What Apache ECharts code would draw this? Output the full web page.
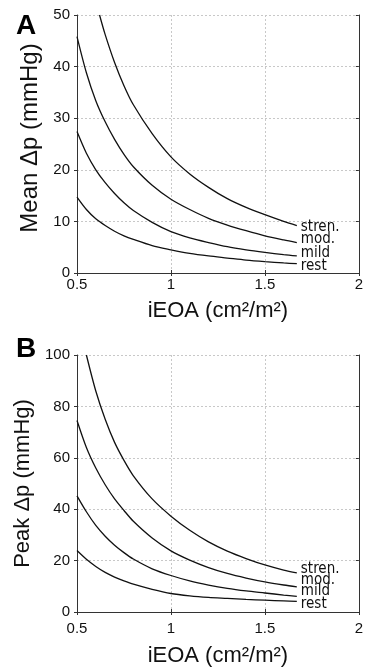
<!DOCTYPE html>
<html>
<head>
<meta charset="utf-8">
<script src="https://cdn.jsdelivr.net/npm/echarts@6/dist/echarts.min.js"></script>
<style>
  html, body { margin: 0; padding: 0; background: #fff; }
  #chart { width: 366px; height: 668px; }
</style>
</head>
<body>
<div id="chart"></div>
<script>
// iEOA (cm²/m²) sample points
const iEOA = [0.5, 0.55, 0.6, 0.65, 0.7, 0.75, 0.8, 0.9, 1.0, 1.1, 1.2, 1.3, 1.4, 1.5, 1.6, 1.67]
const iEOAStrenMean = [0.62, 0.65, 0.7, 0.75, 0.8, 0.9, 1.0, 1.1, 1.2, 1.3, 1.4, 1.5, 1.6, 1.67]
const iEOAStrenPeak = [0.55, 0.6, 0.65, 0.7, 0.75, 0.8, 0.9, 1.0, 1.1, 1.2, 1.3, 1.4, 1.5, 1.6, 1.67]

// panel A: mean gradient (mmHg)
const meanRest = [14.7, 12.3, 10.5, 9.2, 8.1, 7.2, 6.5, 5.3, 4.5, 3.8, 3.3, 2.9, 2.5, 2.2, 1.95, 1.8]
const meanMild = [27.4, 23.2, 20.0, 17.5, 15.4, 13.6, 12.1, 9.8, 8.0, 6.8, 5.9, 5.1, 4.5, 4.0, 3.55, 3.3]
const meanMod = [45.8, 38.8, 33.4, 29.3, 25.9, 23.0, 20.6, 17.0, 14.3, 12.3, 10.6, 9.3, 8.2, 7.2, 6.4, 5.9]
const meanStren = [50, 46.2, 40.8, 36.3, 32.6, 27.0, 22.5, 19.2, 16.6, 14.4, 12.7, 11.3, 10.0, 9.2]

// panel B: peak gradient (mmHg)
const peakRest = [23.9, 20.5, 17.7, 15.4, 13.6, 12.1, 10.8, 8.8, 7.2, 6.3, 5.7, 5.3, 4.9, 4.6, 4.3, 4.1]
const peakMild = [45.2, 39, 33.7, 29.5, 26, 23.1, 20.6, 16.8, 14.2, 12.1, 10.5, 9.2, 8.2, 7.4, 6.6, 6.1]
const peakMod = [74.5, 64, 56, 49.5, 44, 39.5, 35.3, 28.8, 23.8, 20.2, 17.3, 15.0, 13.2, 11.7, 10.5, 9.8]
const peakStren = [100, 86, 75, 66, 59, 53, 44, 37.3, 31.8, 27.3, 23.7, 20.8, 18.3, 16.3, 15.2]

const xTicks = { min: 0.5, max: 2, interval: 0.5 }
const meanTicks = { min: 0, max: 50, interval: 10 }
const peakTicks = { min: 0, max: 100, interval: 20 }

const FONT = '"Liberation Sans", Arial, Helvetica, sans-serif'
const NARROW = '"Liberation Sans Narrow", "DejaVu Sans Condensed", "Liberation Sans", sans-serif'

const zip = (xs, ys) => xs.map((x, i) => [x, ys[i]])

const splitLine = { show: true, lineStyle: { color: '#c8c8c8', type: [2, 2], width: 1 } }
const axisLine = { show: true, lineStyle: { color: '#333', width: 1 } }
const innerTick = { show: true, inside: true, length: 3, lineStyle: { color: '#333' } }

const xAxisBase = (gridIndex, gap, margin) => ({
	type: 'value',
	gridIndex,
	...xTicks,
	name: 'iEOA (cm²/m²)',
	nameLocation: 'middle',
	nameGap: gap,
	nameTextStyle: { fontFamily: FONT, fontSize: 22, color: '#111' },
	axisLine,
	axisTick: innerTick,
	axisLabel: { fontFamily: FONT, fontSize: 15, color: '#111', margin },
	splitLine,
})

const yAxisBase = (gridIndex, ticks, name, gap, nameSize, namePadding) => ({
	type: 'value',
	gridIndex,
	...ticks,
	name,
	nameLocation: 'middle',
	nameGap: gap,
	nameTextStyle: { fontFamily: FONT, fontSize: nameSize, color: '#111', padding: namePadding },
	axisLine,
	axisTick: { show: true, length: 3, lineStyle: { color: '#333' } },
	axisLabel: { fontFamily: FONT, fontSize: 15, color: '#111', margin: 7 },
	splitLine,
})

// top / right frame axes, ticks only
const frameX = (gridIndex) => ({
	type: 'value', gridIndex, position: 'top', ...xTicks,
	axisLine, axisTick: innerTick, axisLabel: { show: false }, splitLine: { show: false },
})
const frameY = (gridIndex, ticks) => ({
	type: 'value', gridIndex, position: 'right', ...ticks,
	axisLine, axisTick: innerTick, axisLabel: { show: false }, splitLine: { show: false },
})

const curve = (name, data, axisIndex, offset) => ({
	name,
	type: 'line',
	xAxisIndex: axisIndex,
	yAxisIndex: axisIndex,
	data,
	smooth: 0.3,
	showSymbol: false,
	silent: true,
	lineStyle: { color: '#111', width: 1.3 },
	endLabel: {
		show: true,
		formatter: name,
		distance: 4,
		offset,
		fontFamily: NARROW,
		fontSize: 15,
		color: '#111',
	},
})

const chart = echarts.init(document.getElementById('chart'), null, { renderer: 'canvas' })

chart.setOption({
	animation: false,
	backgroundColor: '#fff',
	grid: [
		{ left: 77, top: 15, width: 286, height: 258 },
		{ left: 77, top: 355, width: 286, height: 258 },
	],
	xAxis: [xAxisBase(0, 27, 4), xAxisBase(1, 33, 9), frameX(0), frameX(1)],
	yAxis: [
		yAxisBase(0, meanTicks, 'Mean Δp (mmHg)', 27, 24, [0, 0, 0, 12]),
		yAxisBase(1, peakTicks, 'Peak Δp (mmHg)', 36, 22, 0),
		frameY(0, meanTicks),
		frameY(1, peakTicks),
	],
	graphic: [
		{ type: 'text', left: 16, top: 12, style: { text: 'A', font: 'bold 28px ' + FONT, fill: '#000' } },
		{ type: 'text', left: 16, top: 335, style: { text: 'B', font: 'bold 28px ' + FONT, fill: '#000' } },
	],
	series: [
		curve('stren.', zip(iEOAStrenMean, meanStren), 0, [0, 2]),
		curve('mod.', zip(iEOA, meanMod), 0, [0, -3]),
		curve('mild', zip(iEOA, meanMild), 0, [0, -3]),
		curve('rest', zip(iEOA, meanRest), 0, [0, 2]),
		curve('stren.', zip(iEOAStrenPeak, peakStren), 1, [0, -4]),
		curve('mod.', zip(iEOA, peakMod), 1, [0, -7]),
		curve('mild', zip(iEOA, peakMild), 1, [0, -5]),
		curve('rest', zip(iEOA, peakRest), 1, [0, 3]),
	],
})
</script>
</body>
</html>
